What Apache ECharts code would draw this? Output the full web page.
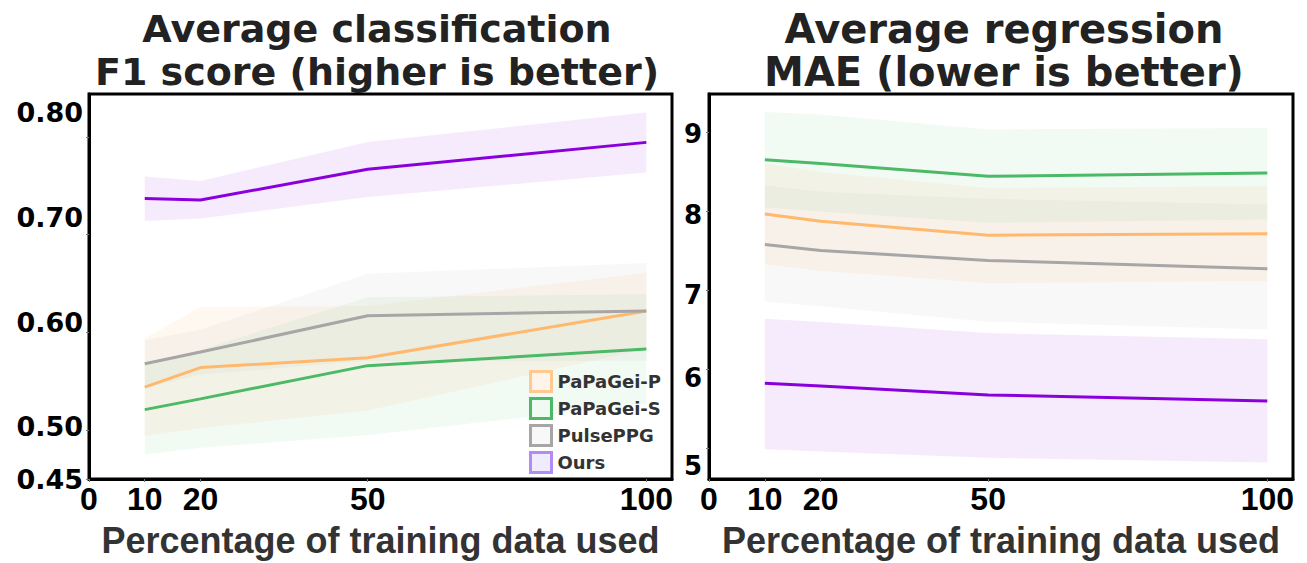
<!DOCTYPE html>
<html>
<head>
<meta charset="utf-8">
<script src="https://cdn.jsdelivr.net/npm/echarts@6/dist/echarts.min.js"></script>
<style>
  html, body { margin: 0; padding: 0; background: #fff; }
  #chart { width: 1307px; height: 563px; }
</style>
</head>
<body>
<div id="chart"></div>
<script>
// x: percentage of training data used
var pct = [10, 20, 50, 100];
var xTicks = [0, 10, 20, 50, 100];
var f1Ticks = [0.45, 0.5, 0.6, 0.7, 0.8];
var maeTicks = [5, 6, 7, 8, 9];
var methods = ['PaPaGei-P', 'PaPaGei-S', 'PulsePPG', 'Ours'];

// classification F1 (mean / lower / upper of shaded band)
var f1PapageiP   = [0.544, 0.564, 0.574, 0.622];
var f1PapageiPLo = [0.494, 0.502, 0.520, 0.583];
var f1PapageiPHi = [0.594, 0.626, 0.627, 0.661];
var f1PapageiS   = [0.521, 0.532, 0.566, 0.583];
var f1PapageiSLo = [0.475, 0.482, 0.495, 0.527];
var f1PapageiSHi = [0.567, 0.582, 0.636, 0.639];
var f1Pulse      = [0.568, 0.580, 0.617, 0.622];
var f1PulseLo    = [0.543, 0.557, 0.571, 0.571];
var f1PulseHi    = [0.592, 0.603, 0.660, 0.671];
var f1Ours       = [0.737, 0.7355, 0.767, 0.7945];
var f1OursLo     = [0.714, 0.7165, 0.7386, 0.7636];
var f1OursHi     = [0.7596, 0.755, 0.795, 0.825];

// regression MAE
var maePapageiP   = [7.97, 7.877, 7.70, 7.72];
var maePapageiPLo = [7.33, 7.25, 7.09, 7.12];
var maePapageiPHi = [8.61, 8.50, 8.30, 8.32];
var maePapageiS   = [8.658, 8.608, 8.447, 8.49];
var maePapageiSLo = [8.05, 8.00, 7.857, 7.90];
var maePapageiSHi = [9.262, 9.23, 9.04, 9.06];
var maePulse      = [7.582, 7.506, 7.38, 7.275];
var maePulseLo    = [6.86, 6.80, 6.604, 6.506];
var maePulseHi    = [8.33, 8.25, 8.16, 8.09];
var maeOurs       = [5.823, 5.789, 5.675, 5.60];
var maeOursLo     = [4.987, 4.96, 4.88, 4.82];
var maeOursHi     = [6.64, 6.60, 6.46, 6.38];

var lineColors = ['#ffb86c', '#4cb966', '#a6a6a6', '#8a00dc'];
var bandColors = ['rgba(255,184,108,0.10)', 'rgba(76,185,102,0.07)', 'rgba(166,166,166,0.08)', 'rgba(142,0,221,0.08)'];

var chart = echarts.init(document.getElementById('chart'), null, { renderer: 'svg' });

function band(name, gi, lo, hi, color) {
  return {
    type: 'custom', name: name + ' band',
    xAxisIndex: gi, yAxisIndex: gi, silent: true, clip: true, z: 1,
    data: pct.map(function (x, i) { return [x, lo[i], hi[i]]; }),
    encode: { x: 0, y: [1, 2] },
    renderItem: function (params, api) {
      if (params.dataIndex !== 0) return null;
      var pts = [];
      for (var i = 0; i < pct.length; i++) pts.push(api.coord([pct[i], hi[i]]));
      for (var j = pct.length - 1; j >= 0; j--) pts.push(api.coord([pct[j], lo[j]]));
      return { type: 'polygon', shape: { points: pts }, style: { fill: color, stroke: null } };
    }
  };
}

function line(name, gi, vals, color) {
  return {
    type: 'line', name: name, xAxisIndex: gi, yAxisIndex: gi, z: 3,
    symbol: 'none', silent: true,
    lineStyle: { color: color, width: 3 },
    itemStyle: { color: color },
    data: pct.map(function (x, i) { return [x, vals[i]]; })
  };
}

var series = [
  band('PaPaGei-P', 0, f1PapageiPLo, f1PapageiPHi, bandColors[0]),
  band('PaPaGei-S', 0, f1PapageiSLo, f1PapageiSHi, bandColors[1]),
  band('PulsePPG', 0, f1PulseLo, f1PulseHi, bandColors[2]),
  band('Ours', 0, f1OursLo, f1OursHi, bandColors[3]),
  band('PaPaGei-P', 1, maePapageiPLo, maePapageiPHi, bandColors[0]),
  band('PaPaGei-S', 1, maePapageiSLo, maePapageiSHi, bandColors[1]),
  band('PulsePPG', 1, maePulseLo, maePulseHi, bandColors[2]),
  band('Ours', 1, maeOursLo, maeOursHi, bandColors[3]),
  line('PaPaGei-P', 0, f1PapageiP, lineColors[0]),
  line('PaPaGei-S', 0, f1PapageiS, lineColors[1]),
  line('PulsePPG', 0, f1Pulse, lineColors[2]),
  line('Ours', 0, f1Ours, lineColors[3]),
  line('PaPaGei-P', 1, maePapageiP, lineColors[0]),
  line('PaPaGei-S', 1, maePapageiS, lineColors[1]),
  line('PulsePPG', 1, maePulse, lineColors[2]),
  line('Ours', 1, maeOurs, lineColors[3])
];

function xAxis(gi) {
  return {
    type: 'value', gridIndex: gi, min: 0, max: 104.6,
    name: 'Percentage of training data used', nameLocation: 'middle', nameGap: 43,
    nameTextStyle: { fontFamily: 'Liberation Sans', fontWeight: 'bold', fontSize: 36, color: '#333' },
    axisLine: { show: true, lineStyle: { color: '#000', width: 3 } },
    axisTick: { show: true, customValues: xTicks, length: 3, lineStyle: { color: '#777', width: 1 } },
    axisLabel: { customValues: xTicks, fontFamily: 'Liberation Sans', fontWeight: 'bold', fontSize: 32, color: '#000', margin: 4 },
    splitLine: { show: false }
  };
}

var yLabelFont = { fontFamily: 'DejaVu Sans', fontWeight: 'bold', fontSize: 27, color: '#000' };
var maeFont = { fontFamily: 'DejaVu Sans', fontWeight: 'bold', fontSize: 26, color: '#000' };

var option = {
  animation: false,
  backgroundColor: '#fff',
  title: [
    { text: 'Average classification\nF1 score (higher is better)', left: 372, top: 2, textAlign: 'center',
      textStyle: { fontFamily: 'DejaVu Sans', fontWeight: 'bold', fontSize: 38, lineHeight: 43, color: '#222' } },
    { text: 'Average regression\nMAE (lower is better)', left: 999, top: 2, textAlign: 'center',
      textStyle: { fontFamily: 'DejaVu Sans', fontWeight: 'bold', fontSize: 40, lineHeight: 43, color: '#222' } }
  ],
  legend: {
    orient: 'vertical', left: 529, top: 370, padding: 0, itemGap: 4,
    itemWidth: 21, itemHeight: 20, icon: 'rect',
    textStyle: { fontFamily: 'DejaVu Sans', fontWeight: 'bold', fontSize: 18, color: '#333', padding: [0, 0, 0, 1] },
    data: [
      { name: 'PaPaGei-P', itemStyle: { color: '#fff4e9', borderColor: '#ffc98f', borderWidth: 3 } },
      { name: 'PaPaGei-S', itemStyle: { color: '#f0f9f2', borderColor: '#4cb966', borderWidth: 3 } },
      { name: 'PulsePPG', itemStyle: { color: '#f8f8f8', borderColor: '#a6a6a6', borderWidth: 3 } },
      { name: 'Ours', itemStyle: { color: '#f1ecfd', borderColor: '#b18cf5', borderWidth: 3 } }
    ]
  },
  grid: [
    { left: 89, top: 94, width: 583, height: 387, show: true, borderColor: '#000', borderWidth: 3, backgroundColor: 'transparent' },
    { left: 709, top: 94, width: 584, height: 386, show: true, borderColor: '#000', borderWidth: 3, backgroundColor: 'transparent' }
  ],
  xAxis: [xAxis(0), xAxis(1)],
  yAxis: [
    {
      type: 'value', gridIndex: 0, min: 0.45, max: 0.844,
      axisLine: { show: true, lineStyle: { color: '#000', width: 3 } },
      axisTick: { show: true, customValues: f1Ticks, length: 3, lineStyle: { color: '#777', width: 1 } },
      axisLabel: {
        customValues: f1Ticks, margin: 6,
        formatter: function (v) {
          var k = v >= 0.79 ? 'a' : v >= 0.69 ? 'b' : v >= 0.59 ? 'c' : v >= 0.49 ? 'd' : 'e';
          return '{' + k + '|' + v.toFixed(2) + '}';
        },
        rich: {
          a: Object.assign({ padding: [0, 0, 48, 0] }, yLabelFont),
          b: Object.assign({ padding: [0, 0, 34, 0] }, yLabelFont),
          c: Object.assign({ padding: [0, 0, 20, 0] }, yLabelFont),
          d: Object.assign({ padding: [0, 0, 8, 0] }, yLabelFont),
          e: Object.assign({ padding: [0, 0, 0, 0] }, yLabelFont)
        }
      },
      splitLine: { show: false }
    },
    {
      type: 'value', gridIndex: 1, min: 4.61, max: 9.49,
      axisLine: { show: true, lineStyle: { color: '#000', width: 3 } },
      axisTick: { show: true, customValues: maeTicks, length: 3, lineStyle: { color: '#777', width: 1 } },
      axisLabel: {
        customValues: maeTicks, margin: 7,
        formatter: function (v) { return '{m' + v + '|' + v + '}'; },
        rich: {
          m9: Object.assign({ padding: [2, 0, 0, 0] }, maeFont),
          m8: Object.assign({ padding: [6, 0, 0, 0] }, maeFont),
          m7: Object.assign({ padding: [10, 0, 0, 0] }, maeFont),
          m6: Object.assign({ padding: [18, 0, 0, 0] }, maeFont),
          m5: Object.assign({ padding: [36, 0, 0, 0] }, maeFont)
        }
      },
      splitLine: { show: false }
    }
  ],
  series: series
};

chart.setOption(option);
</script>
</body>
</html>
